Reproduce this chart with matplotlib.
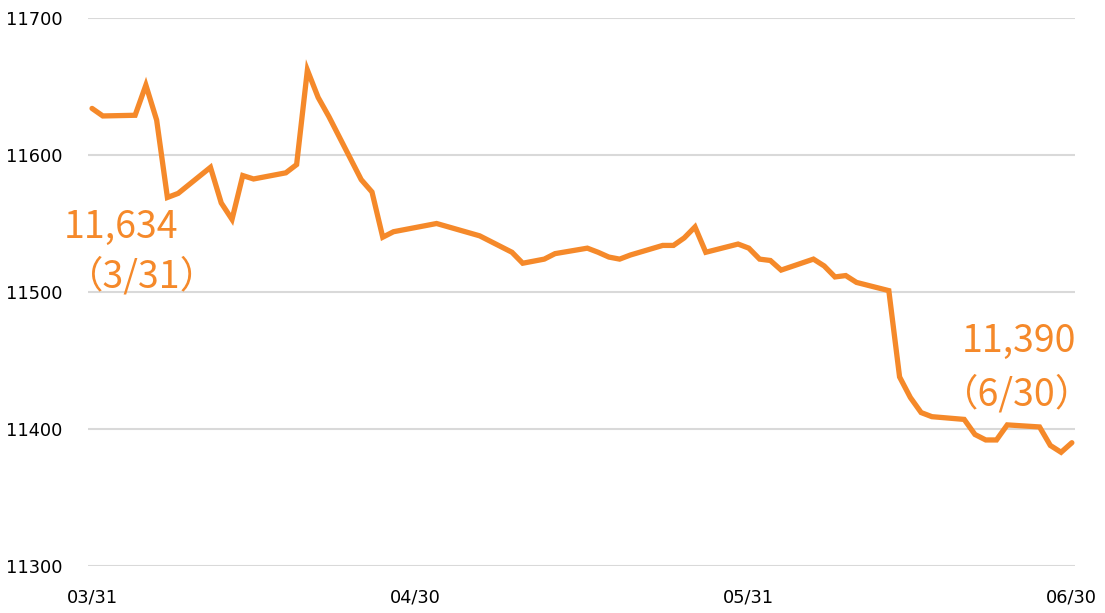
import matplotlib
matplotlib.use("Agg")
import matplotlib.pyplot as plt
import pandas as pd

dates = ["2022-03-31", "2022-04-01", "2022-04-04", "2022-04-05", "2022-04-06", "2022-04-07",
         "2022-04-08", "2022-04-11", "2022-04-12", "2022-04-13", "2022-04-14", "2022-04-15",
         "2022-04-18", "2022-04-19", "2022-04-20", "2022-04-21", "2022-04-22", "2022-04-25",
         "2022-04-26", "2022-04-27", "2022-04-28", "2022-05-02", "2022-05-06", "2022-05-09",
         "2022-05-10", "2022-05-11", "2022-05-12", "2022-05-13", "2022-05-16", "2022-05-17",
         "2022-05-18", "2022-05-19", "2022-05-20", "2022-05-23", "2022-05-24", "2022-05-25",
         "2022-05-26", "2022-05-27", "2022-05-30", "2022-05-31", "2022-06-01", "2022-06-02",
         "2022-06-03", "2022-06-06", "2022-06-07", "2022-06-08", "2022-06-09", "2022-06-10",
         "2022-06-13", "2022-06-14", "2022-06-15", "2022-06-16", "2022-06-17", "2022-06-20",
         "2022-06-21", "2022-06-22", "2022-06-23", "2022-06-24", "2022-06-27", "2022-06-28",
         "2022-06-29", "2022-06-30"]
values = [11634, 11628.5, 11629, 11651, 11625.5, 11569,
          11572, 11591, 11565, 11553, 11585, 11582.5,
          11587, 11593, 11662, 11642, 11628, 11582,
          11573, 11540, 11544, 11550, 11541, 11529,
          11521, 11522.5, 11524, 11528, 11532, 11529,
          11525.5, 11524, 11527, 11534, 11534, 11539.5,
          11547.5, 11529, 11535, 11532, 11524, 11523,
          11516, 11524, 11519, 11511, 11512, 11507,
          11501, 11438, 11423, 11412, 11409, 11407,
          11396, 11392, 11392, 11403, 11401.5, 11388,
          11383, 11390]

xtick_dates = ["2022-03-31", "2022-04-30", "2022-05-31", "2022-06-30"]
xtick_labels = ["03/31", "04/30", "05/31", "06/30"]
yticks = [11300, 11400, 11500, 11600, 11700]

start_label = ["11,634", "（3/31）"]
end_label = ["11,390", "（6/30）"]

color = "#F5892A"

x = pd.to_datetime(dates)
fig = plt.figure(figsize=(11.05, 6.13), dpi=100)
ax = fig.add_axes([88/1105, 1 - 566/613, (1075-88)/1105, (566-18)/613])

ax.plot(x, values, color=color, lw=3.8, solid_joinstyle="miter", solid_capstyle="round", zorder=3)

x0 = pd.Timestamp(xtick_dates[0])
x1 = pd.Timestamp(xtick_dates[-1])
ax.set_xlim(x0 - pd.Timedelta(hours=9), x1 + pd.Timedelta(hours=7))
ax.set_ylim(11300, 11700)
ax.set_yticks(yticks)
ax.set_yticklabels([str(v) for v in yticks])
ax.set_xticks(pd.to_datetime(xtick_dates))
ax.set_xticklabels(xtick_labels)
ax.grid(axis="y", color="#D9D9D9", lw=1.5, zorder=0)
for s in ax.spines.values():
    s.set_visible(False)
ax.tick_params(axis="y", length=0, pad=18.5, labelsize=12.8, labelcolor="#000000")
ax.tick_params(axis="x", length=0, pad=16, labelsize=12.8, labelcolor="#000000")

fp = dict(family=["Noto Sans CJK JP", "DejaVu Sans"], color=color, fontsize=27)
ax.text(x0 - pd.Timedelta(days=2.6), 11539.4, start_label[0], ha="left", va="baseline", **fp)
ax.text(x0 - pd.Timedelta(days=2.45), 11503.6, start_label[1], ha="left", va="baseline", **fp)
ax.text(x1 + pd.Timedelta(days=0.45), 11456, end_label[0], ha="right", va="baseline", **fp)
ax.text(x1 + pd.Timedelta(days=2.0), 11417, end_label[1], ha="right", va="baseline", **fp)

fig.savefig("out.png", dpi=100)
